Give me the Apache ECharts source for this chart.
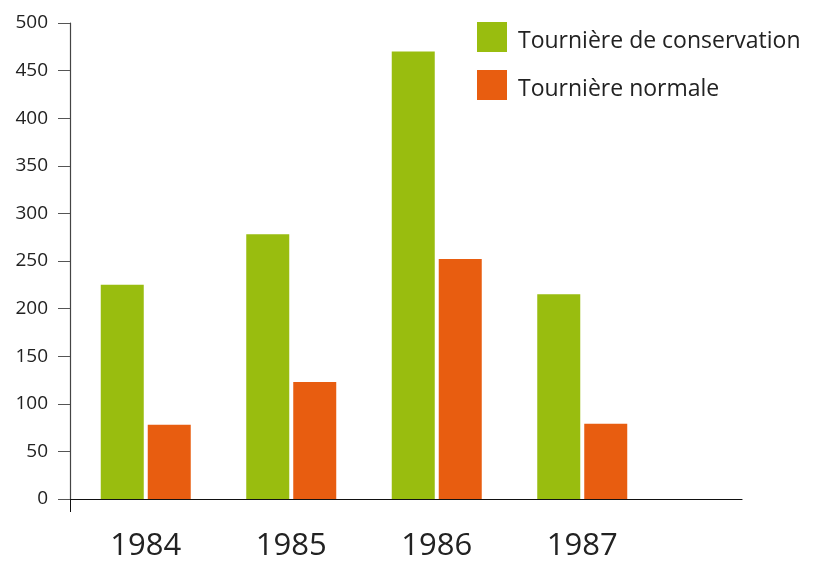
<!DOCTYPE html>
<html>
<head>
<meta charset="utf-8">
<script src="https://cdn.jsdelivr.net/npm/echarts@6/dist/echarts.min.js"></script>
<style>
html,body{margin:0;padding:0;background:#fff;}
#chart{width:822px;height:562px;}
</style>
</head>
<body>
<div id="chart"></div>
<script>
const categories = ['1984', '1985', '1986', '1987'];
const conservation = [225, 278, 470, 215];
const normale = [78, 123, 252, 79];
const seriesNames = ['Tournière de conservation', 'Tournière normale'];
const yTicks = { min: 0, max: 500, interval: 50 };

const FONT = '"Open Sans", "Noto Sans", sans-serif';
const chart = echarts.init(document.getElementById('chart'), null, { renderer: 'canvas' });

chart.setOption({
  animation: false,
  backgroundColor: '#ffffff',
  legend: {
    orient: 'vertical',
    left: 477,
    top: 22,
    padding: 0,
    itemWidth: 30,
    itemHeight: 30,
    itemGap: 17,
    icon: 'rect',
    formatter: function (name) { return '{t|' + name + '}'; },
    textStyle: {
      fontFamily: FONT, fontSize: 23, color: '#222',
      rich: { t: { fontFamily: FONT, fontSize: 23, color: '#222', padding: [9, 0, 0, 6] } }
    },
    data: seriesNames
  },
  grid: [
    { left: 73, width: 582, top: 23, bottom: 63 },
    { left: 70, right: 80, top: 23, bottom: 63 }
  ],
  xAxis: [
    {
      type: 'category', gridIndex: 0, data: categories,
      axisLine: { show: false }, axisTick: { show: false },
      axisLabel: { fontFamily: FONT, fontSize: 31, color: '#222', margin: 32 }
    },
    {
      type: 'category', gridIndex: 1, data: ['', ''], boundaryGap: false,
      axisLine: { show: true, lineStyle: { color: '#111', width: 1.2 } },
      axisTick: { show: true, length: 13, lineStyle: { color: '#111' },
        interval: function (index) { return index === 0; } },
      axisLabel: { show: false }
    }
  ],
  yAxis: [
    { type: 'value', gridIndex: 0, min: yTicks.min, max: yTicks.max, interval: yTicks.interval, show: false },
    {
      type: 'value', gridIndex: 1, min: yTicks.min, max: yTicks.max, interval: yTicks.interval,
      axisLine: { show: true, lineStyle: { color: '#444', width: 1.2 } },
      axisTick: { show: true, length: 12, lineStyle: { color: '#555' } },
      splitLine: { show: false },
      axisLabel: { fontFamily: FONT, fontSize: 19, color: '#222', margin: 22 }
    }
  ],
  series: [
    {
      name: seriesNames[0], type: 'bar', xAxisIndex: 0, yAxisIndex: 0,
      data: conservation, barWidth: 43, barGap: '9.3%',
      itemStyle: { color: '#99BD0F' }
    },
    {
      name: seriesNames[1], type: 'bar', xAxisIndex: 0, yAxisIndex: 0,
      data: normale, barWidth: 43, barGap: '9.3%',
      itemStyle: { color: '#E85D10' }
    }
  ]
});
</script>
</body>
</html>
